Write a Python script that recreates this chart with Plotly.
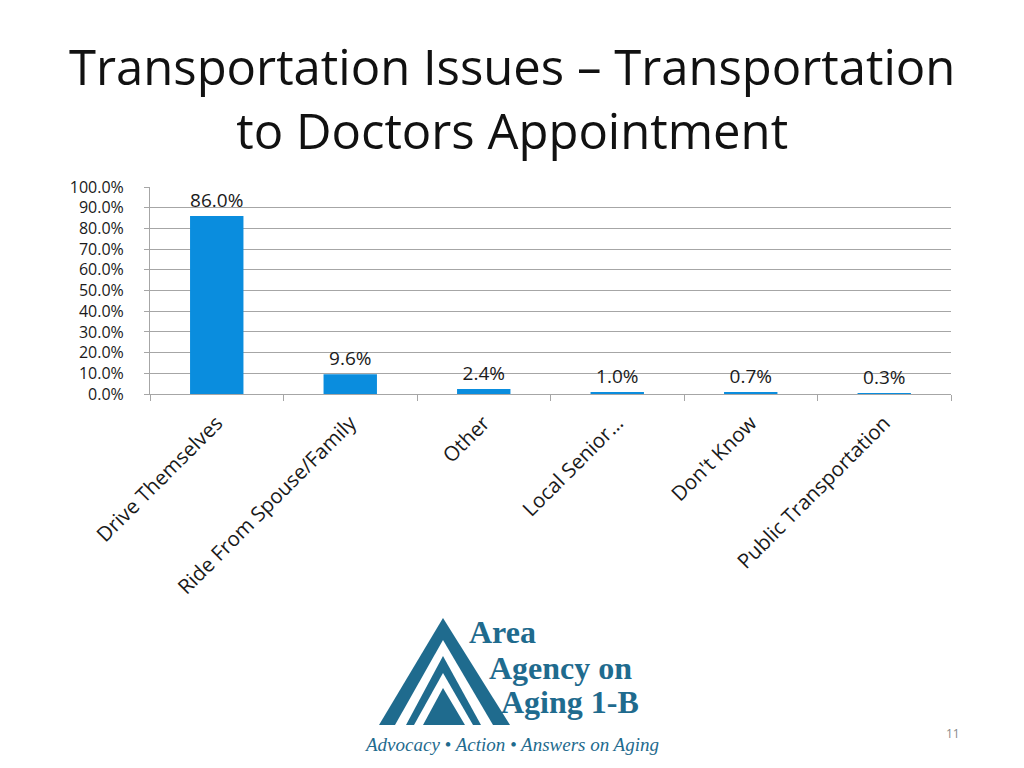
import plotly.graph_objects as go

categories = ["Drive Themselves", "Ride From Spouse/Family", "Other", "Local Senior…", "Don't Know", "Public Transportation"]
values = [0.860, 0.096, 0.024, 0.010, 0.007, 0.003]
y_ticks = [0.0, 0.1, 0.2, 0.3, 0.4, 0.5, 0.6, 0.7, 0.8, 0.9, 1.0]
y_tick_labels = [f"{v*100:.1f}%" for v in y_ticks]
title_text = "Transportation Issues – Transportation<br>to Doctors Appointment"
page_number = "11"

FONT = "Open Sans"
BAR = "#0A8DDE"
LOGO = "#1F6B8E"
TXT = "#1a1a1a"

# page offset from default body margin
OFF = 8
# plot area in page pixels
L, R, T, B = 150, 951, 187, 394
W, H = R - L, B - T

def px(x):
    return (x - L) / W

def py(y):
    return (B - y) / H

fig = go.Figure()
fig.add_trace(go.Bar(
    x=categories, y=values,
    marker=dict(color=BAR, line=dict(width=0)),
    text=[f"{v*100:.1f}%" for v in values],
    textposition="outside",
    textfont=dict(family=FONT, size=19, color=TXT),
    cliponaxis=False,
))

def tri(apex_x, apex_y, bl, br, base_y, color):
    path = (f"M {px(apex_x)} {py(apex_y)} L {px(br)} {py(base_y)} "
            f"L {px(bl)} {py(base_y)} Z")
    return dict(type="path", xref="paper", yref="paper", path=path,
                fillcolor=color, line=dict(width=0), layer="above")

shapes = [
    tri(443, 618, 379, 510, 725, LOGO),
    tri(443, 640, 395, 493, 725, "white"),
    tri(443, 656, 406, 481, 725, LOGO),
    tri(443, 673, 414, 473, 725, "white"),
    tri(443, 688, 423, 465, 725, LOGO),
]

def ann(text, x, y, font, xanchor="left"):
    return dict(text=text, xref="paper", yref="paper", x=px(x), y=py(y),
                xanchor=xanchor, yanchor="middle", showarrow=False, font=font)

logo_font = dict(family="Liberation Serif", size=32, color=LOGO)
annotations = [
    ann(title_text, 512, 98, dict(family=FONT, size=49, color="#111111"), "center"),
    ann("<b>Area</b>", 467, 632, logo_font),
    ann("<b>Agency on</b>", 487, 668, logo_font),
    ann("<b>Aging 1-B</b>", 499, 702, logo_font),
    ann("<i>Advocacy • Action • Answers on Aging</i>", 511, 744,
        dict(family="Liberation Serif", size=19, color=LOGO), "center"),
    ann(page_number, 953, 733, dict(family=FONT, size=12, color="#8a8a8a"), "center"),
]

fig.update_layout(
    width=1024, height=768,
    margin=dict(l=L - OFF, r=1024 - (R - OFF), t=T - OFF, b=768 - (B - OFF), pad=0),
    paper_bgcolor="white", plot_bgcolor="white",
    showlegend=False, bargap=0.6,
    shapes=shapes, annotations=annotations,
    xaxis=dict(
        showline=True, linecolor="#a6a6a6", linewidth=1,
        ticks="outside", tickson="boundaries", ticklen=6, tickcolor="#a6a6a6",
        tickangle=-45, tickfont=dict(family=FONT, size=20.5, color=TXT),
        ticklabelstandoff=8,
        showgrid=False,
    ),
    yaxis=dict(
        range=[0, 1.0], tickvals=y_ticks, ticktext=y_tick_labels,
        showline=True, linecolor="#a6a6a6", linewidth=1,
        ticks="outside", ticklen=5, tickcolor="#a6a6a6",
        showgrid=True, gridcolor="#a6a6a6", gridwidth=1,
        tickfont=dict(family=FONT, size=16, color=TXT),
        ticklabelstandoff=17,
        zeroline=False,
    ),
)

fig.write_html("out.html")
